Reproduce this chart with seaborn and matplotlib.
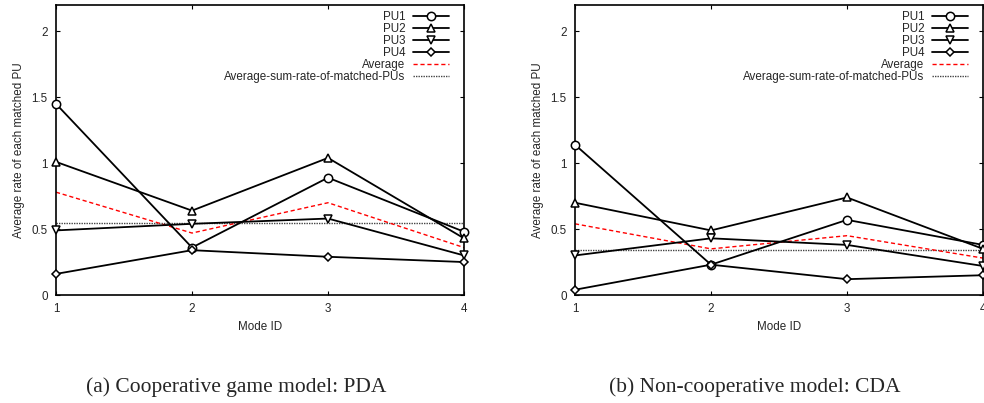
import numpy as np
import pandas as pd
import matplotlib
matplotlib.use("Agg")
import matplotlib.pyplot as plt
import seaborn as sns

# Mode IDs on the x axis
modes = [1, 2, 3, 4]
series_names = ["PU1", "PU2", "PU3", "PU4"]

# (a) Cooperative game model: PDA
pda_pu1 = [1.45, 0.36, 0.89, 0.48]
pda_pu2 = [1.01, 0.64, 1.04, 0.43]
pda_pu3 = [0.49, 0.54, 0.58, 0.30]
pda_pu4 = [0.16, 0.34, 0.29, 0.25]
pda_avg = [0.78, 0.47, 0.70, 0.36]
pda_sum_avg = 0.55

# (b) Non-cooperative model: CDA
cda_pu1 = [1.14, 0.23, 0.57, 0.38]
cda_pu2 = [0.70, 0.49, 0.74, 0.35]
cda_pu3 = [0.30, 0.43, 0.38, 0.22]
cda_pu4 = [0.04, 0.23, 0.12, 0.15]
cda_avg = [0.54, 0.35, 0.45, 0.28]
cda_sum_avg = 0.34

captions = ["(a) Cooperative game model: PDA", "(b) Non-cooperative model: CDA"]

sns.set_style("ticks")
plt.rcParams['font.family'] = ['Liberation Sans', 'DejaVu Sans']
fs = 8.4

markers = ["o", "^", "v", "D"]
msizes = [6, 6, 6, 4.5]


def draw_panel(ax, pus, avg, sum_avg):
    for name, vals, mk, ms in zip(series_names, pus, markers, msizes):
        df = pd.DataFrame({"mode": modes, "rate": vals})
        sns.lineplot(data=df, x="mode", y="rate", ax=ax, color="black", lw=1.3,
                     marker=mk, markersize=ms, markerfacecolor="white",
                     markeredgecolor="black", markeredgewidth=1.1,
                     label=name, clip_on=False, zorder=3)
    df = pd.DataFrame({"mode": modes, "rate": avg})
    sns.lineplot(data=df, x="mode", y="rate", ax=ax, color="red", lw=1.0,
                 linestyle=(0, (3, 2)), label="Average", zorder=2)
    ax.axhline(sum_avg, color="#444444", lw=1.0, linestyle=(0, (1, 0.8)),
               label="Average-sum-rate-of-matched-PUs", zorder=1)

    ax.set_xlim(1, 4)
    ax.set_ylim(0, 2.2)
    ax.set_xticks(modes)
    ax.set_yticks([0, 0.5, 1, 1.5, 2])
    ax.set_yticklabels(["0", "0.5", "1", "1.5", "2"])
    ax.tick_params(direction="in", length=3, width=0.8, top=True, right=True,
                   labelsize=fs, pad=6, color="black")
    for sp in ax.spines.values():
        sp.set_visible(True)
        sp.set_linewidth(1.2)
        sp.set_color("black")
    ax.set_xlabel("Mode ID", fontsize=fs, labelpad=4)
    ax.set_ylabel("Average rate of each matched PU", fontsize=fs, labelpad=5)
    ax.legend(loc="upper right", bbox_to_anchor=(1 - 7 / 408, 1 + 2 / 290),
              frameon=False, markerfirst=False,
              handlelength=3.1, handletextpad=0.6, labelspacing=0.0,
              borderaxespad=0.3, fontsize=fs)


fig = plt.figure(figsize=(9.84, 4.03), dpi=100)
ax1 = fig.add_axes([56 / 984, 1 - 295 / 403, 408 / 984, 290 / 403])
ax2 = fig.add_axes([575 / 984, 1 - 295 / 403, 408 / 984, 290 / 403])

draw_panel(ax1, [pda_pu1, pda_pu2, pda_pu3, pda_pu4], pda_avg, pda_sum_avg)
draw_panel(ax2, [cda_pu1, cda_pu2, cda_pu3, cda_pu4], cda_avg, cda_sum_avg)

fig.text(236 / 984, 1 - 387 / 403, captions[0], ha="center", va="center",
         fontsize=15.5, family=["Liberation Serif", "DejaVu Serif"])
fig.text(755 / 984, 1 - 387 / 403, captions[1], ha="center", va="center",
         fontsize=15.5, family=["Liberation Serif", "DejaVu Serif"])

fig.savefig("out.png", dpi=100)
